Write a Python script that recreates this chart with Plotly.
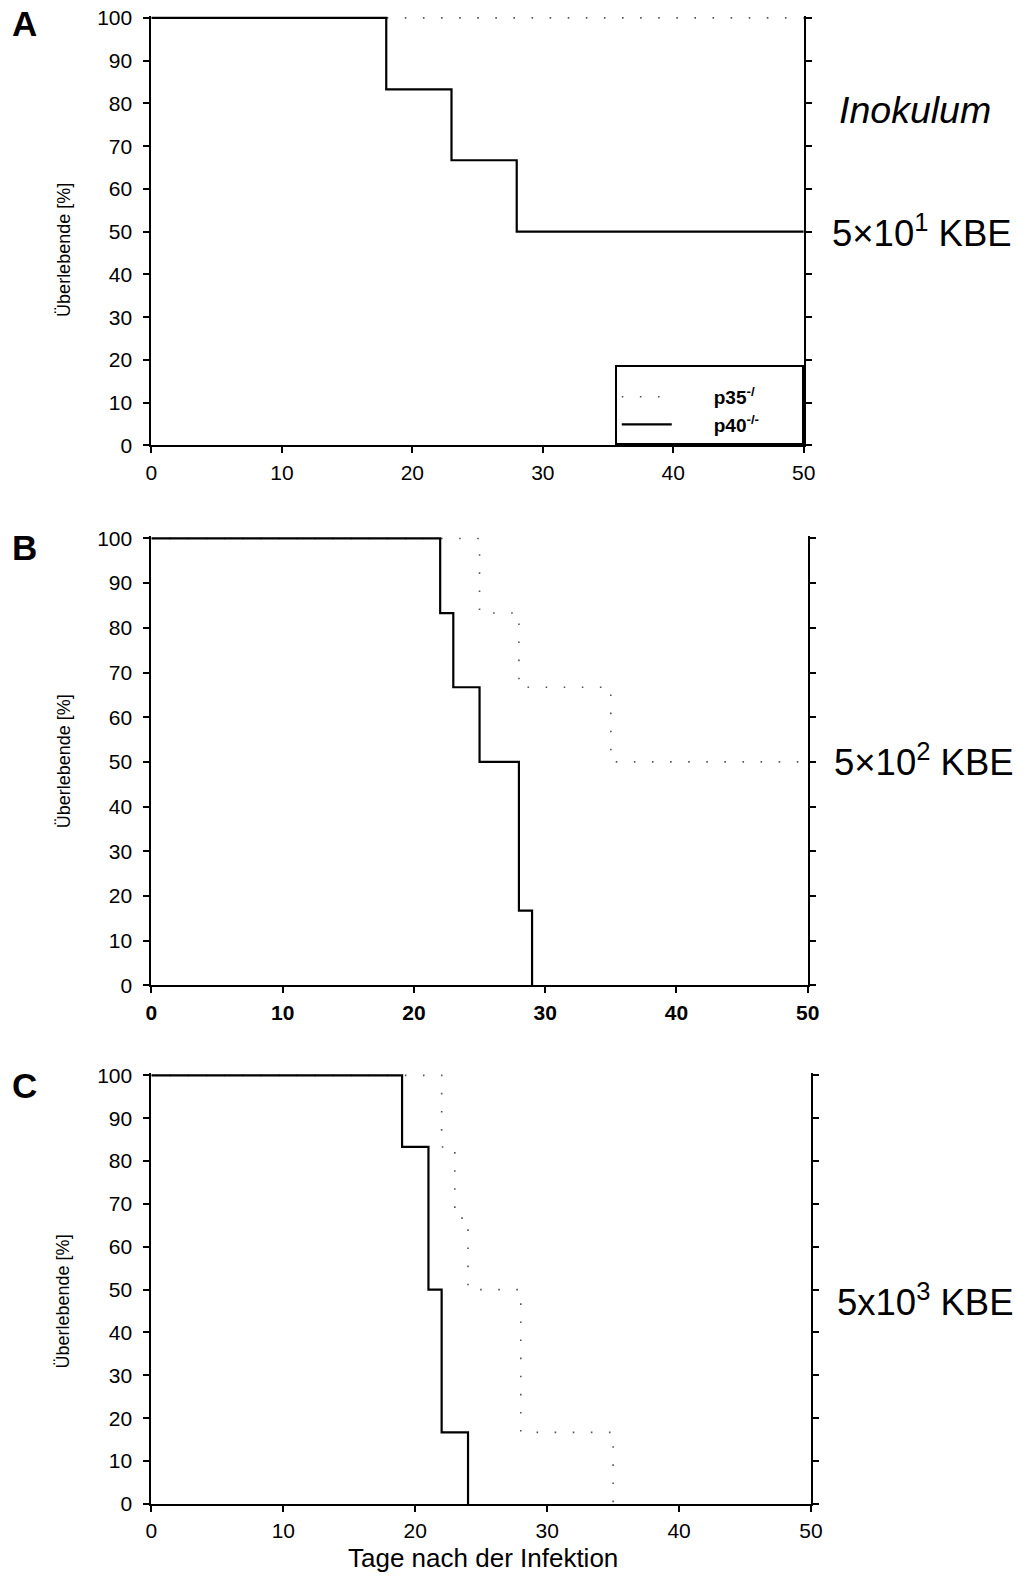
import plotly.graph_objects as go

# ---- data (days after infection, survival %) ----
days_A_p35 = [0, 50]
surv_A_p35 = [100, 100]
days_A_p40 = [0, 18, 23, 28, 50]
surv_A_p40 = [100, 83.3, 66.7, 50, 50]

days_B_p35 = [0, 25, 28, 35, 50]
surv_B_p35 = [100, 83.3, 66.7, 50, 50]
days_B_p40 = [0, 22, 23, 25, 28, 29]
surv_B_p40 = [100, 83.3, 66.7, 50, 16.7, 0]

days_C_p35 = [0, 22, 23, 24, 28, 35]
surv_C_p35 = [100, 83.3, 66.7, 50, 16.7, 0]
days_C_p40 = [0, 19, 21, 22, 24]
surv_C_p40 = [100, 83.3, 50, 16.7, 0]

x_ticks = [0, 10, 20, 30, 40, 50]
y_ticks = [0, 10, 20, 30, 40, 50, 60, 70, 80, 90, 100]

panel_letters = ["A", "B", "C"]
inoculum_labels = ["5×10<sup>1</sup> KBE", "5×10<sup>2</sup> KBE", "5x10<sup>3</sup> KBE"]
legend_names = ["p35<sup>-/</sup>", "p40<sup>-/-</sup>"]
y_title = "Überlebende [%]"
x_title = "Tage nach der Infektion"

W, H = 1027, 1586
FONT = "Liberation Sans, Arial, sans-serif"
NB = "\u00a0"

def px_x(p):
    return p / W

def px_y(p):
    return 1 - p / H

# panel pixel geometry: (x_left, x_right, y_zero, y_hundred)
geom = [(148, 812, 442, 9), (148, 816, 988.8, 536.2), (148, 819.4, 1514, 1080)]
YMAX = 100.5

fig = go.Figure()

series = [
    (days_A_p35, surv_A_p35, days_A_p40, surv_A_p40),
    (days_B_p35, surv_B_p35, days_B_p40, surv_B_p40),
    (days_C_p35, surv_C_p35, days_C_p40, surv_C_p40),
]

for i, (d35, s35, d40, s40) in enumerate(series):
    xa = "x" if i == 0 else f"x{i+1}"
    ya = "y" if i == 0 else f"y{i+1}"
    fig.add_trace(go.Scatter(
        x=d35, y=s35, mode="lines", line_shape="hv",
        line=dict(color="#555555", width=1.6, dash="1.6px,16.5px"),
        name=NB * 7 + "<b>" + legend_names[0] + "</b>" + NB * 7,
        showlegend=(i == 0), xaxis=xa, yaxis=ya,
    ))
    fig.add_trace(go.Scatter(
        x=d40, y=s40, mode="lines", line_shape="hv",
        line=dict(color="black", width=2.2),
        name=NB * 7 + "<b>" + legend_names[1] + "</b>" + NB * 7,
        showlegend=(i == 0), xaxis=xa, yaxis=ya,
    ))

layout = dict(
    width=W, height=H,
    margin=dict(l=0, r=0, t=0, b=0),
    paper_bgcolor="white", plot_bgcolor="white",
    font=dict(family=FONT, color="black", size=18),
    legend=dict(
        x=px_x(812), xanchor="right", y=px_y(442), yanchor="bottom",
        bordercolor="black", borderwidth=2, bgcolor="white",
        font=dict(family=FONT, size=19, color="black"),
        title=dict(text=NB, font=dict(size=8)),
        itemwidth=50, tracegroupgap=0,
    ),
)

for i, (xl, xr, y0, y100) in enumerate(geom):
    top = y0 - (y0 - y100) * YMAX / 100
    xkey = "xaxis" if i == 0 else f"xaxis{i+1}"
    ykey = "yaxis" if i == 0 else f"yaxis{i+1}"
    anchor_y = "y" if i == 0 else f"y{i+1}"
    anchor_x = "x" if i == 0 else f"x{i+1}"
    layout[xkey] = dict(
        domain=[px_x(xl), px_x(xr)], anchor=anchor_y, range=[0, 50],
        tickvals=x_ticks, ticktext=[str(v) for v in x_ticks],
        ticks="outside", ticklen=6, tickwidth=2, tickcolor="black",
        showline=True, linewidth=2, linecolor="black", mirror=False,
        showgrid=False, zeroline=False, ticklabelstandoff=1,
        tickfont=dict(family=FONT, size=21, color="black",
                      weight="bold" if i == 1 else "normal"),
    )
    layout[ykey] = dict(
        domain=[px_y(y0), px_y(top)], anchor=anchor_x, range=[0, YMAX],
        tickvals=y_ticks, ticktext=[str(v) for v in y_ticks],
        ticks="outside", ticklen=6, tickwidth=2, tickcolor="black",
        showline=True, linewidth=2, linecolor="black", mirror="ticks",
        showgrid=False, zeroline=False, ticklabelstandoff=7,
        tickfont=dict(family=FONT, size=21, color="black"),
    )

fig.update_layout(**layout)

ann = []
letter_y = [15, 545, 1090]
ytitle_y = [244, 762, 1309]
inoc_pos = [(932, 225, 36.5), (934, 761, 36.5), (936, 1307, 36.5)]
for i in range(3):
    ann.append(dict(text=f"<b>{panel_letters[i]}</b>", x=px_x(19), y=px_y(letter_y[i]),
                    xref="paper", yref="paper", xanchor="center", yanchor="middle",
                    showarrow=False, font=dict(family=FONT, size=35, color="black")))
    ann.append(dict(text=y_title, x=px_x(59), y=px_y(ytitle_y[i]), textangle=-90,
                    xref="paper", yref="paper", xanchor="center", yanchor="middle",
                    showarrow=False, font=dict(family=FONT, size=18, color="black")))
    ix, iy, fs = inoc_pos[i]
    ann.append(dict(text=inoculum_labels[i], x=px_x(ix), y=px_y(iy),
                    xref="paper", yref="paper", xanchor="center", yanchor="middle",
                    showarrow=False, font=dict(family=FONT, size=fs, color="black")))

ann.append(dict(text="<i>Inokulum</i>", x=px_x(925), y=px_y(102),
                xref="paper", yref="paper", xanchor="center", yanchor="middle",
                showarrow=False, font=dict(family=FONT, size=37.5, color="black")))
ann.append(dict(text=x_title, x=px_x(486), y=0,
                xref="paper", yref="paper", xanchor="center", yanchor="bottom",
                showarrow=False, font=dict(family=FONT, size=26, color="black")))

fig.update_layout(annotations=ann)

fig.write_html("out.html")
